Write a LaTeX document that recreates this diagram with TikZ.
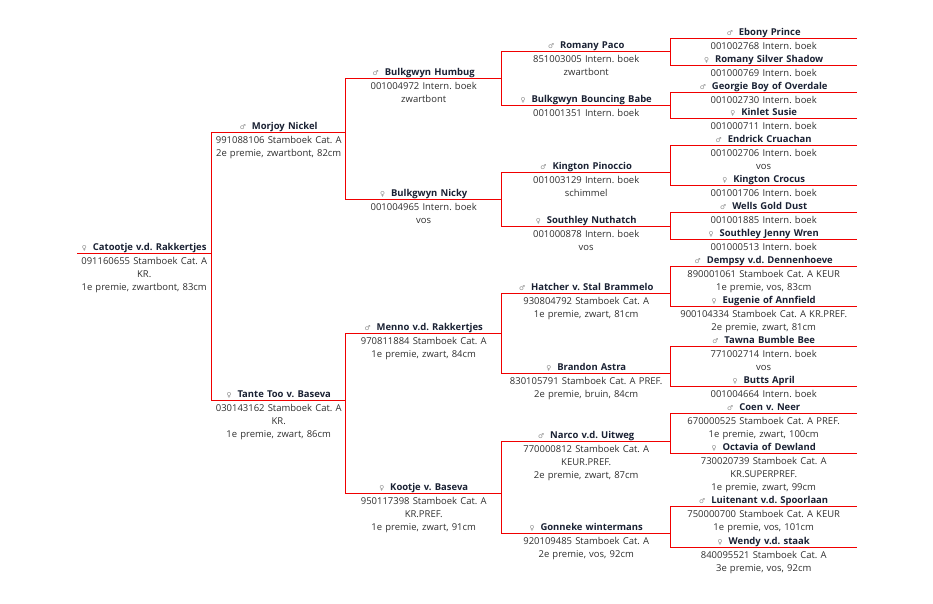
\documentclass[tikz,border=0pt]{standalone}
\usepackage{fontspec}
\setmainfont{Open Sans}
\newfontfamily\symfont{DejaVu Sans}
\definecolor{redline}{HTML}{F00000}
\definecolor{namecol}{HTML}{1A2133}
\definecolor{detcol}{HTML}{2E2E2E}
\definecolor{symcol}{HTML}{8A8A8A}
\newcommand\sirem{{\symfont\fontsize{6.8}{7}\selectfont\color{symcol}\symbol{"2642}}\hspace{6bp}}
\newcommand\damf{{\symfont\fontsize{6.8}{7}\selectfont\color{symcol}\symbol{"2640}}\hspace{6bp}}
\tikzset{
  nm/.style={inner sep=0pt, text height=7bp, text depth=3bp, align=center,
    font=\bfseries\fontsize{9.5}{13.4}\selectfont\frenchspacing, text=namecol, anchor=south west},
  dt/.style={inner sep=0pt, align=center, text width=200bp,
    font=\fontsize{9.5}{13.38}\selectfont\frenchspacing, text=detcol, anchor=base},
  lnf/.style={fill=redline, draw=none},
  w0/.style={text width=134bp},
  w1/.style={text width=134bp},
  w2/.style={text width=156bp},
  w3/.style={text width=169bp},
  w4/.style={text width=186bp},
}
\begin{document}
\begin{tikzpicture}[x=1bp,y=-1bp]
\useasboundingbox (0,0) rectangle (933,604);

% ---------- generation 0
\node[nm,w0] (cat) at (77,253.5) {\damf Catootje v.d. Rakkertjes};
\node[dt] (catd) at ([yshift=-10.8bp]cat.south) {091160655 Stamboek Cat. A\\KR.\\1e premie, zwartbont, 83cm};

% ---------- generation 1
\node[nm,w1] (mor) at (211.5,132.5) {\sirem Morjoy Nickel};
\node[dt] (mord) at ([yshift=-10.8bp]mor.south) {991088106 Stamboek Cat. A\\2e premie, zwartbont, 82cm};
\node[nm,w1] (tan) at (211.5,400.5) {\damf Tante Too v. Baseva};
\node[dt] (tand) at ([yshift=-10.8bp]tan.south) {030143162 Stamboek Cat. A\\KR.\\1e premie, zwart, 86cm};

% ---------- generation 2
\node[nm,w2] (hum) at (345.5,78.5) {\sirem Bulkgwyn Humbug};
\node[dt] (humd) at ([yshift=-10.8bp]hum.south) {001004972 Intern. boek\\zwartbont};
\node[nm,w2] (nic) at (345.5,199.5) {\damf Bulkgwyn Nicky};
\node[dt] (nicd) at ([yshift=-10.8bp]nic.south) {001004965 Intern. boek\\vos};
\node[nm,w2] (men) at (345.5,333.5) {\sirem Menno v.d. Rakkertjes};
\node[dt] (mend) at ([yshift=-10.8bp]men.south) {970811884 Stamboek Cat. A\\1e premie, zwart, 84cm};
\node[nm,w2] (koo) at (345.5,493.5) {\damf Kootje v. Baseva};
\node[dt] (kood) at ([yshift=-10.8bp]koo.south) {950117398 Stamboek Cat. A\\KR.PREF.\\1e premie, zwart, 91cm};

% ---------- generation 3
\node[nm,w3] (pac) at (501.5,51.5) {\sirem Romany Paco};
\node[dt] (pacd) at ([yshift=-10.8bp]pac.south) {851003005 Intern. boek\\zwartbont};
\node[nm,w3] (bab) at (501.5,105.5) {\damf Bulkgwyn Bouncing Babe};
\node[dt] (babd) at ([yshift=-10.8bp]bab.south) {001001351 Intern. boek};
\node[nm,w3] (pin) at (501.5,172.5) {\sirem Kington Pinoccio};
\node[dt] (pind) at ([yshift=-10.8bp]pin.south) {001003129 Intern. boek\\schimmel};
\node[nm,w3] (nut) at (501.5,226.5) {\damf Southley Nuthatch};
\node[dt] (nutd) at ([yshift=-10.8bp]nut.south) {001000878 Intern. boek\\vos};
\node[nm,w3] (hat) at (501.5,293.5) {\sirem Hatcher v. Stal Brammelo};
\node[dt] (hatd) at ([yshift=-10.8bp]hat.south) {930804792 Stamboek Cat. A\\1e premie, zwart, 81cm};
\node[nm,w3] (bra) at (501.5,373.5) {\damf Brandon Astra};
\node[dt] (brad) at ([yshift=-10.8bp]bra.south) {830105791 Stamboek Cat. A PREF.\\2e premie, bruin, 84cm};
\node[nm,w3] (nar) at (501.5,441.5) {\sirem Narco v.d. Uitweg};
\node[dt] (nard) at ([yshift=-10.8bp]nar.south) {770000812 Stamboek Cat. A\\KEUR.PREF.\\2e premie, zwart, 87cm};
\node[nm,w3] (gon) at (501.5,533.5) {\damf Gonneke wintermans};
\node[dt] (gond) at ([yshift=-10.8bp]gon.south) {920109485 Stamboek Cat. A\\2e premie, vos, 92cm};

% ---------- generation 4
\node[nm,w4] (ebo) at (670.5,38.5) {\sirem Ebony Prince};
\node[dt] (ebod) at ([yshift=-10.6bp]ebo.south) {001002768 Intern. boek};
\node[nm,w4] (rss) at (670.5,65.5) {\damf Romany Silver Shadow};
\node[dt] (rssd) at ([yshift=-10.6bp]rss.south) {001000769 Intern. boek};
\node[nm,w4] (geo) at (670.5,92.5) {\sirem Georgie Boy of Overdale};
\node[dt] (geod) at ([yshift=-10.6bp]geo.south) {001002730 Intern. boek};
\node[nm,w4] (kin) at (670.5,118.5) {\damf Kinlet Susie};
\node[dt] (kind) at ([yshift=-10.6bp]kin.south) {001000711 Intern. boek};
\node[nm,w4] (edr) at (670.5,145.5) {\sirem Endrick Cruachan};
\node[dt] (edrd) at ([yshift=-10.6bp]edr.south) {001002706 Intern. boek\\vos};
\node[nm,w4] (cro) at (670.5,185.5) {\damf Kington Crocus};
\node[dt] (crod) at ([yshift=-10.6bp]cro.south) {001001706 Intern. boek};
\node[nm,w4] (wel) at (670.5,212.5) {\sirem Wells Gold Dust};
\node[dt] (weld) at ([yshift=-10.6bp]wel.south) {001001885 Intern. boek};
\node[nm,w4] (sjw) at (670.5,239.5) {\damf Southley Jenny Wren};
\node[dt] (sjwd) at ([yshift=-10.6bp]sjw.south) {001000513 Intern. boek};
\node[nm,w4] (dem) at (670.5,266.5) {\sirem Dempsy v.d. Dennenhoeve};
\node[dt] (demd) at ([yshift=-10.6bp]dem.south) {890001061 Stamboek Cat. A KEUR\\1e premie, vos, 83cm};
\node[nm,w4] (eug) at (670.5,306.5) {\damf Eugenie of Annfield};
\node[dt] (eugd) at ([yshift=-10.6bp]eug.south) {900104334 Stamboek Cat. A KR.PREF.\\2e premie, zwart, 81cm};
\node[nm,w4] (taw) at (670.5,346.5) {\sirem Tawna Bumble Bee};
\node[dt] (tawd) at ([yshift=-10.6bp]taw.south) {771002714 Intern. boek\\vos};
\node[nm,w4] (but) at (670.5,386.5) {\damf Butts April};
\node[dt] (butd) at ([yshift=-10.6bp]but.south) {001004664 Intern. boek};
\node[nm,w4] (coe) at (670.5,413.5) {\sirem Coen v. Neer};
\node[dt] (coed) at ([yshift=-10.6bp]coe.south) {670000525 Stamboek Cat. A PREF.\\1e premie, zwart, 100cm};
\node[nm,w4] (oct) at (670.5,453.5) {\damf Octavia of Dewland};
\node[dt] (octd) at ([yshift=-10.6bp]oct.south) {730020739 Stamboek Cat. A\\KR.SUPERPREF.\\1e premie, zwart, 99cm};
\node[nm,w4] (lui) at (670.5,506.5) {\sirem Luitenant v.d. Spoorlaan};
\node[dt] (luid) at ([yshift=-10.6bp]lui.south) {750000700 Stamboek Cat. A KEUR\\1e premie, vos, 101cm};
\node[nm,w4] (wen) at (670.5,547.5) {\damf Wendy v.d. staak};
\node[dt] (wend) at ([yshift=-10.6bp]wen.south) {840095521 Stamboek Cat. A\\3e premie, vos, 92cm};

% ---------- connectors (1bp red bars): one underline per horse, one vertical per pair of parents
\foreach \h in {cat, mor, tan, hum, nic, men, koo, pac, bab, pin, nut, hat, bra, nar, gon,
                ebo, rss, geo, kin, edr, cro, wel, sjw, dem, eug, taw, but, coe, oct, lui, wen}
  \fill[lnf] ([yshift=0.5bp]\h.south west) rectangle ([yshift=-0.5bp]\h.south east);
\foreach \s/\d in {mor/tan, hum/nic, men/koo, pac/bab, pin/nut, hat/bra, nar/gon,
                   ebo/rss, geo/kin, edr/cro, wel/sjw, dem/eug, taw/but, coe/oct, lui/wen}
  \fill[lnf] ([xshift=-0.5bp,yshift=0.5bp]\s.south west) rectangle ([xshift=0.5bp,yshift=-0.5bp]\d.south west);
\end{tikzpicture}
\end{document}
